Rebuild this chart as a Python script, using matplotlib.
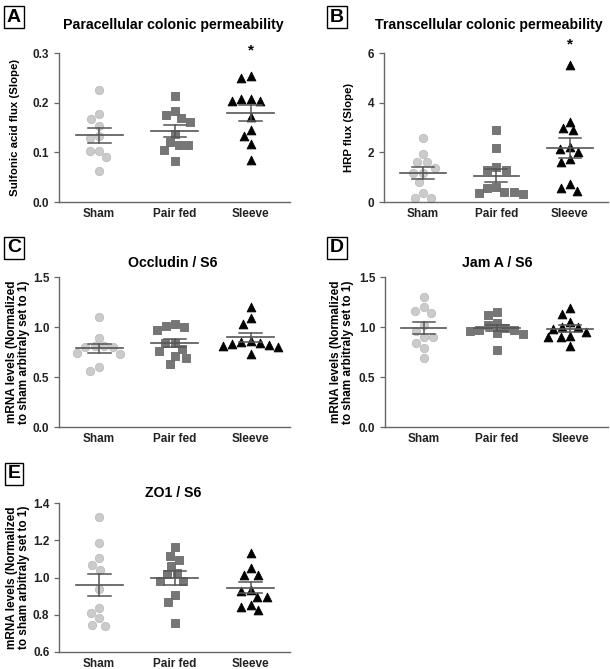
import matplotlib
matplotlib.use("Agg")
import matplotlib.pyplot as plt
import numpy as np

plt.rcParams["font.family"] = ["Liberation Sans", "DejaVu Sans"]
plt.rcParams["font.weight"] = "bold"

groups = ["Sham", "Pair fed", "Sleeve"]

# Panel A: paracellular permeability (sulfonic acid flux)
a_sham = [0.225, 0.178, 0.168, 0.153, 0.132, 0.128, 0.103, 0.103, 0.090, 0.062]
a_pair = [0.214, 0.184, 0.175, 0.169, 0.162, 0.137, 0.121, 0.114, 0.114, 0.105, 0.082]
a_sleeve = [0.254, 0.249, 0.207, 0.207, 0.203, 0.203, 0.171, 0.145, 0.132, 0.116, 0.085]

# Panel B: transcellular permeability (HRP flux)
b_sham = [2.57, 1.94, 1.63, 1.60, 1.36, 1.16, 1.16, 0.82, 0.35, 0.17, 0.17]
b_pair = [2.88, 2.19, 1.39, 1.29, 1.29, 0.62, 0.55, 0.42, 0.42, 0.35, 0.32]
b_sleeve = [5.50, 3.24, 2.97, 2.88, 2.20, 2.15, 2.03, 1.72, 1.63, 0.73, 0.55, 0.46]

# Panel C: Occludin / S6
c_sham = [1.103, 0.893, 0.81, 0.80, 0.81, 0.80, 0.745, 0.735, 0.597, 0.563]
c_pair = [1.03, 1.013, 0.997, 0.97, 0.843, 0.837, 0.777, 0.763, 0.71, 0.693, 0.63]
c_sleeve = [1.197, 1.087, 1.027, 0.86, 0.85, 0.84, 0.83, 0.82, 0.81, 0.80, 0.73]

# Panel D: Jam A / S6
d_sham = [1.303, 1.203, 1.163, 1.143, 1.02, 0.963, 0.897, 0.897, 0.843, 0.787, 0.687]
d_pair = [1.153, 1.12, 1.037, 1.02, 0.987, 0.97, 0.97, 0.963, 0.94, 0.93, 0.77]
d_sleeve = [1.187, 1.13, 1.053, 0.997, 0.997, 0.977, 0.953, 0.91, 0.897, 0.897, 0.81]

# Panel E: ZO1 / S6
e_sham = [1.326, 1.184, 1.103, 1.067, 1.04, 0.937, 0.835, 0.808, 0.781, 0.745, 0.74]
e_pair = [1.162, 1.117, 1.094, 1.063, 1.022, 1.019, 0.981, 0.981, 0.906, 0.87, 0.754]
e_sleeve = [1.133, 1.049, 1.014, 1.014, 0.933, 0.929, 0.897, 0.894, 0.855, 0.844, 0.823]

mrna_label = "mRNA levels (Normalized\nto sham arbitraly set to 1)"

panels = [
    # letter, title, ylabel, data, ylim, yticks, fmt, star_y, rect(px: left, top, right, bottom)
    ("A", "Paracellular colonic permeability", "Sulfonic acid flux (Slope)",
     [a_sham, a_pair, a_sleeve], (0, 0.3), [0, 0.1, 0.2, 0.3], "{:.1f}", 0.306, (59, 53, 290, 202)),
    ("B", "Transcellular colonic permeability", "HRP flux (Slope)",
     [b_sham, b_pair, b_sleeve], (0, 6), [0, 2, 4, 6], "{:.0f}", 6.35, (384, 53, 608, 202)),
    ("C", "Occludin / S6", mrna_label,
     [c_sham, c_pair, c_sleeve], (0, 1.5), [0, 0.5, 1.0, 1.5], "{:.1f}", None, (59, 277, 290, 427)),
    ("D", "Jam A / S6", mrna_label,
     [d_sham, d_pair, d_sleeve], (0, 1.5), [0, 0.5, 1.0, 1.5], "{:.1f}", None, (385, 277, 608, 427)),
    ("E", "ZO1 / S6", mrna_label,
     [e_sham, e_pair, e_sleeve], (0.6, 1.4), [0.6, 0.8, 1.0, 1.2, 1.4], "{:.1f}", None, (59, 503, 290, 652)),
]

label_x = {"A": -0.17, "B": -0.135, "C": -0.125, "D": -0.14, "E": -0.125}
title_pad = {"A": 17, "B": 17, "C": 7, "D": 7, "E": 4}
title_x = {"A": 0.494, "B": 0.47, "C": 0.494, "D": 0.502, "E": 0.494}

styles = [
    dict(marker="o", s=36, facecolor="#cbcbcb", edgecolor="#bdbdbd"),
    dict(marker="s", s=32, facecolor="#767676", edgecolor="#6a6a6a"),
    dict(marker="^", s=40, facecolor="black", edgecolor="black"),
]

W, H = 610, 669
fig = plt.figure(figsize=(W / 100, H / 100), dpi=100)


def swarm(values, d_px, x_per_px, y_per_px):
    """Simple beeswarm: place each point as close to the centre as possible."""
    vals = np.asarray(values)
    offsets = np.zeros(len(vals))
    placed = []
    for i in np.argsort(vals)[::-1]:
        y = vals[i] / y_per_px
        cands = [0.0]
        for px, py in placed:
            dy = y - py
            if abs(dy) < d_px:
                w = np.sqrt(d_px ** 2 - dy ** 2)
                cands += [px - w, px + w]
        ok = [c for c in cands
              if all((c - px) ** 2 + (y - py) ** 2 >= d_px ** 2 - 1e-6 for px, py in placed)]
        best = min(ok, key=lambda c: (abs(c), c))
        placed.append((best, y))
        offsets[i] = best * x_per_px
    return offsets


line_col = "#555555"
xlim = (-0.53, 2.52)

for letter, title, ylabel, data, ylim, yticks, fmt, star_y, rect in panels:
    l, t, r, b = rect
    ax = fig.add_axes([l / W, 1 - b / H, (r - l) / W, (b - t) / H])
    ax.set_xlim(*xlim)
    ax.set_ylim(*ylim)
    x_per_px = (xlim[1] - xlim[0]) / (r - l)
    y_per_px = (ylim[1] - ylim[0]) / (b - t)

    for k, vals in enumerate(data):
        offs = swarm(vals, 9.5, x_per_px, y_per_px)
        ax.scatter(k + offs, vals, linewidths=0.6, zorder=2, clip_on=False, **styles[k])
        m = np.mean(vals)
        sem = np.std(vals, ddof=1) / np.sqrt(len(vals))
        ax.plot([k - 0.31, k + 0.31], [m, m], color=line_col, lw=1.2, zorder=3)
        ax.plot([k, k], [m - sem, m + sem], color=line_col, lw=1.1, zorder=3)
        for yy in (m - sem, m + sem):
            ax.plot([k - 0.15, k + 0.15], [yy, yy], color=line_col, lw=1.1, zorder=3)

    if star_y is not None:
        ax.text(2, star_y, "*", ha="center", va="center", fontsize=11,
                fontweight="bold", clip_on=False)

    for side in ("top", "right"):
        ax.spines[side].set_visible(False)
    for side in ("left", "bottom"):
        ax.spines[side].set_color("#666666")
        ax.spines[side].set_linewidth(1.0)

    ax.set_yticks(yticks)
    ax.set_yticklabels([fmt.format(v) for v in yticks])
    ax.set_xticks(range(3))
    ax.set_xticklabels(groups)
    ax.tick_params(axis="y", length=3.5, width=0.9, color="#666666", labelsize=8.5, pad=3.5)
    ax.tick_params(axis="x", length=0, labelsize=8.5, pad=4)
    for lab in ax.get_xticklabels() + ax.get_yticklabels():
        lab.set_fontweight("bold")
        lab.set_color("#222222")

    fs = 8.5 if letter in "CDE" else 8.2
    ax.set_ylabel(ylabel, fontsize=fs, fontweight="bold", linespacing=1.0)
    ax.yaxis.set_label_coords(label_x[letter], 0.5)
    ax.set_title(title, fontsize=10.2, fontweight="bold", pad=title_pad[letter],
                 x=title_x[letter])

    # panel letter in a box
    lx = 14 if letter in "ACE" else 337
    ly = {"A": 17, "B": 17, "C": 248, "D": 248, "E": 474}[letter]
    fig.text(lx / W, 1 - ly / H, letter, ha="center", va="center", fontsize=14,
             fontweight="bold",
             bbox=dict(boxstyle="square,pad=0.15", facecolor="white",
                       edgecolor="black", linewidth=1.0))

fig.savefig("out.png", dpi=100)
